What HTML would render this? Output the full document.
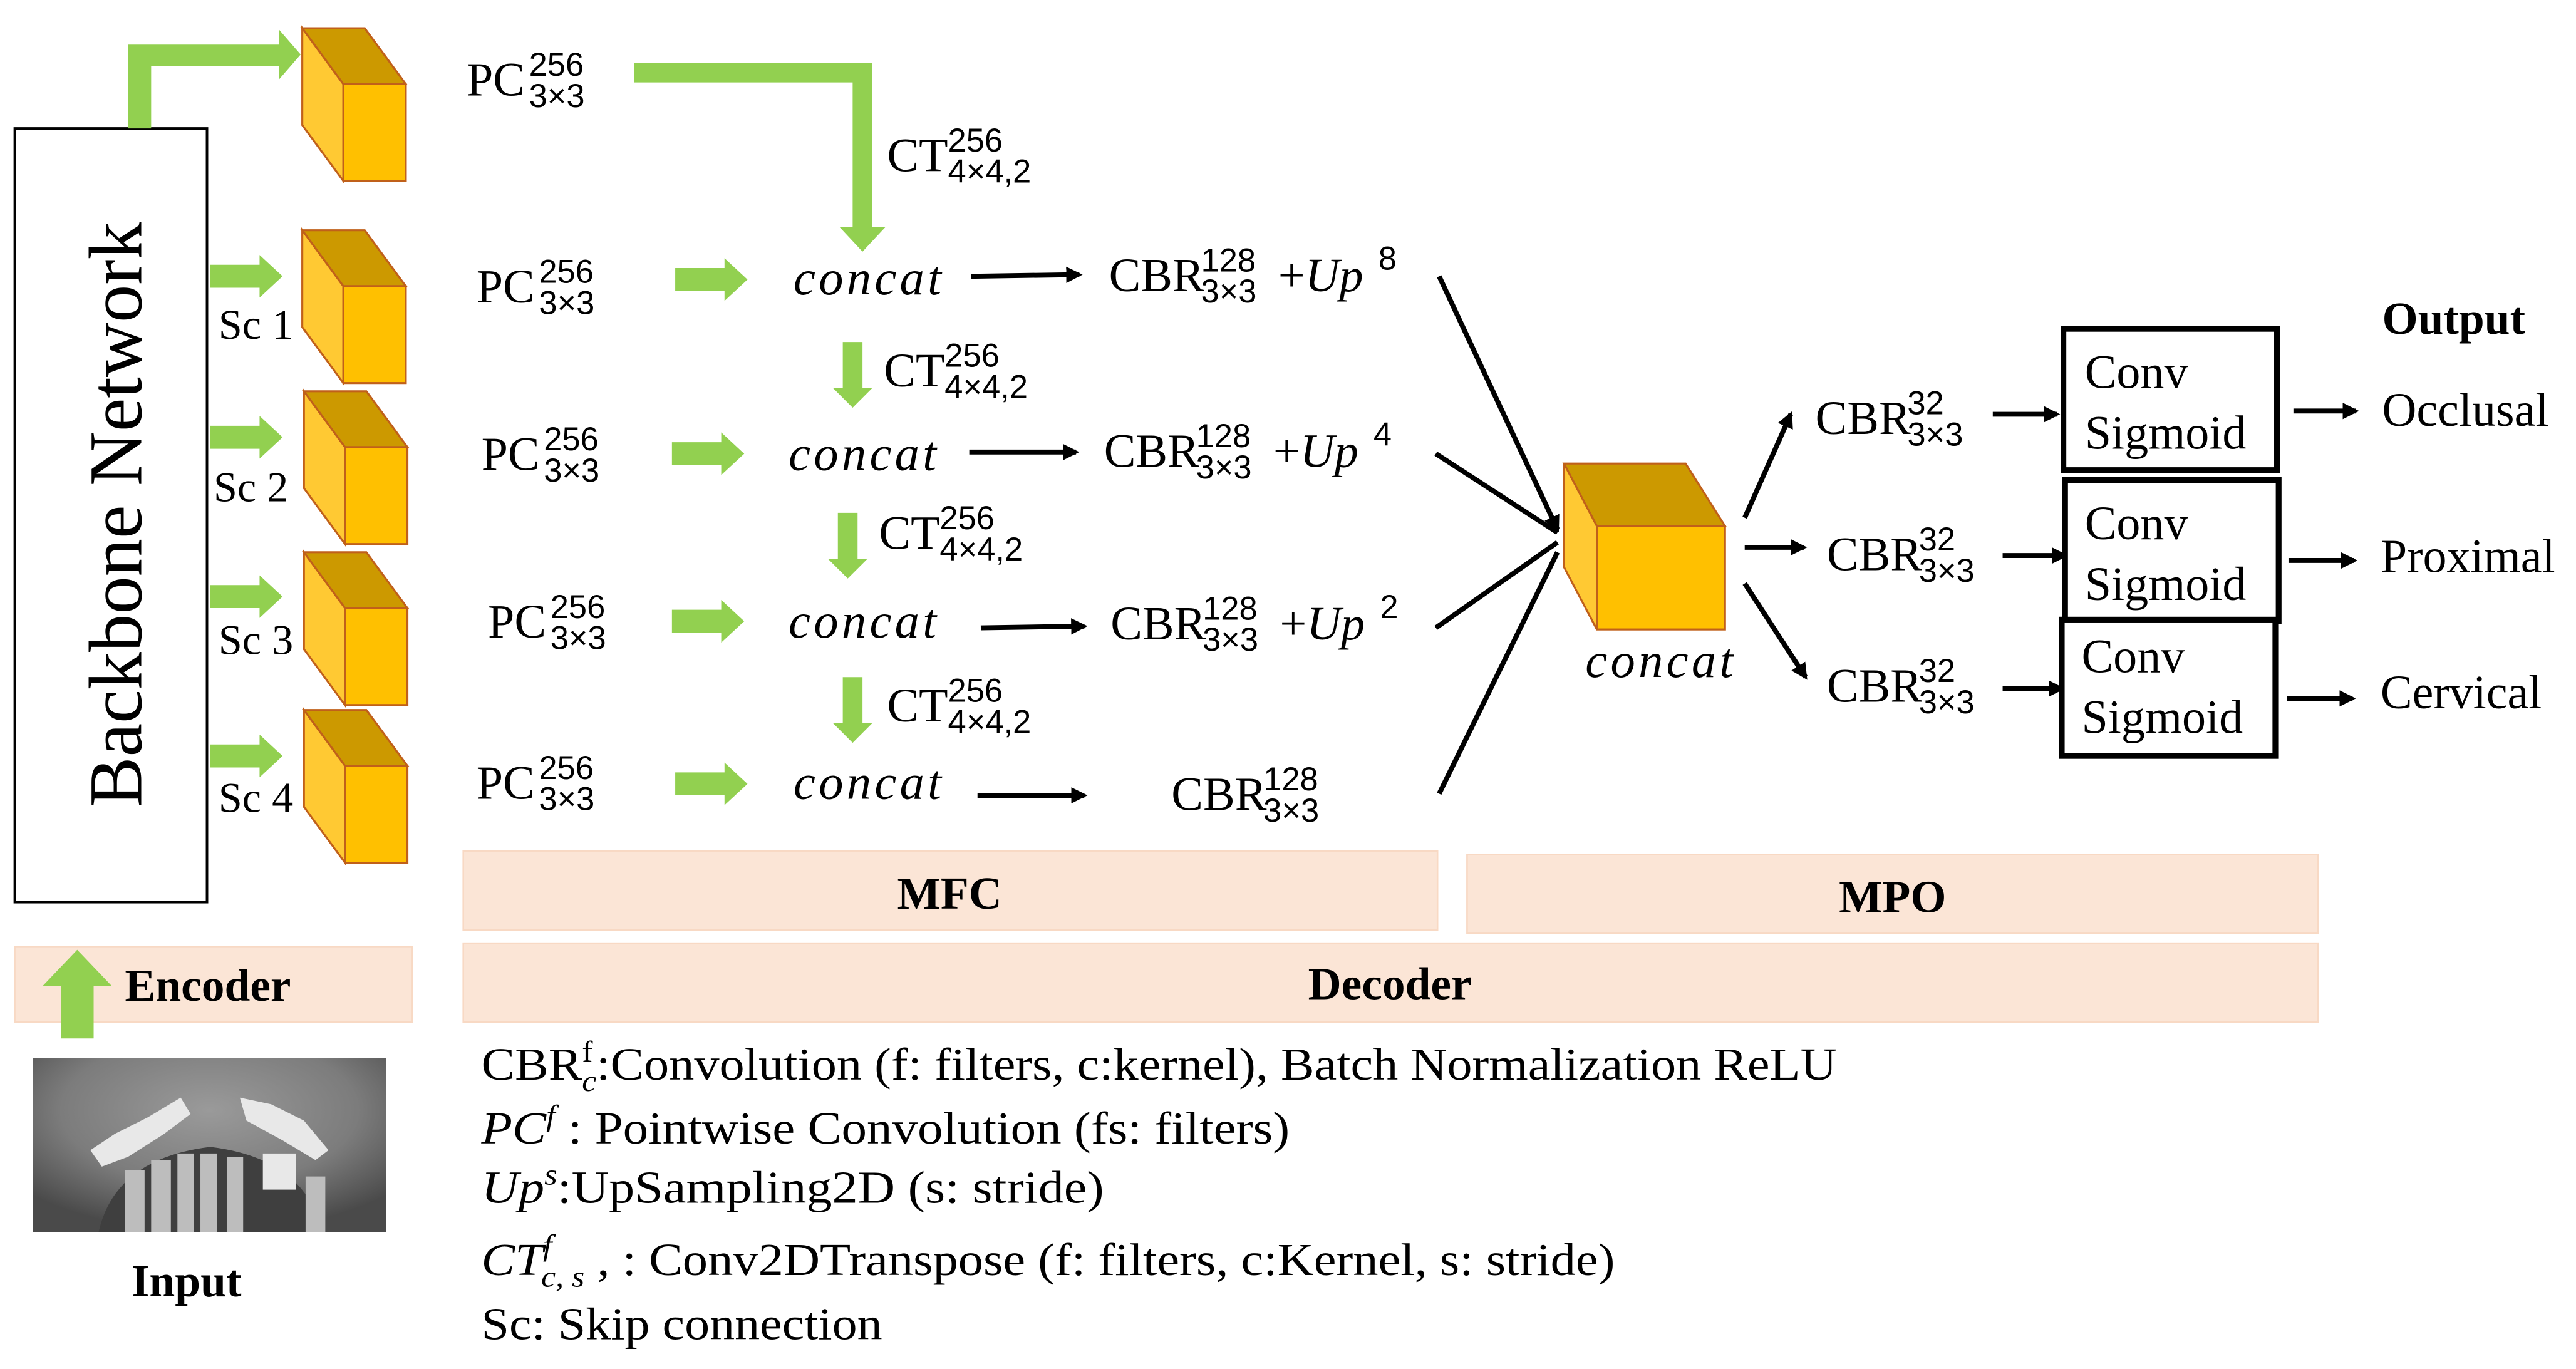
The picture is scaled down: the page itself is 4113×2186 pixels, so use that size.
<!DOCTYPE html>
<html><head><meta charset="utf-8"><style>
html,body{margin:0;padding:0;background:#fff;}
svg{display:block;}
text{font-family:"Liberation Serif",serif;fill:#000;}
.m{font-size:29px;}
.s{font-size:20px;font-family:"Liberation Sans",sans-serif;}
.i{font-style:italic;font-size:30px;}
.b{font-weight:bold;}
</style></head><body>
<svg width="4113" height="2186" viewBox="0 0 1568 833" xmlns="http://www.w3.org/2000/svg">
<defs>
<g id="cube">
<polygon points="0,0 25,34 25,93 0,59" fill="#FFC933" stroke="#C0601A" stroke-width="1.2"/>
<polygon points="0,0 38,0 63,34 25,34" fill="#CC9900" stroke="#C0601A" stroke-width="1.2"/>
<rect x="25" y="34" width="38" height="59" fill="#FFC000" stroke="#C0601A" stroke-width="1.2"/>
</g>
<g id="garr"><polygon points="0,-7 30,-7 30,-13 44,0 30,13 30,7 0,7" fill="#92D050"/></g>
<g id="gdown"><polygon points="-6,0 6,0 6,28 12,28 0,40 -12,28 -6,28" fill="#92D050"/></g>
<marker id="ah" markerWidth="10" markerHeight="10" refX="8" refY="5" orient="auto" markerUnits="userSpaceOnUse"><polygon points="0,0 10,5 0,10" fill="#000"/></marker>
</defs>

<rect x="9" y="78" width="117" height="471" fill="#fff" stroke="#000" stroke-width="1.5"/>
<text x="0" y="0" transform="translate(86,313) rotate(-90)" text-anchor="middle" font-size="46">Backbone Network</text>
<polygon points="78,78 92,78 92,40 170,40 170,48 183,33 170,18 170,27 78,27" fill="#92D050"/>

<use href="#cube" x="184" y="17"/>
<use href="#cube" x="184" y="140"/>
<use href="#cube" x="185" y="238"/>
<use href="#cube" x="185" y="336"/>
<use href="#cube" x="185" y="432"/>
<use href="#garr" x="128" y="168"/>
<use href="#garr" x="128" y="266"/>
<use href="#garr" x="128" y="363"/>
<use href="#garr" x="128" y="460"/>
<text x="133" y="206" font-size="26">Sc 1</text>
<text x="130" y="305" font-size="26">Sc 2</text>
<text x="133" y="398" font-size="26">Sc 3</text>
<text x="133" y="494" font-size="26">Sc 4</text>

<g class="m">
<text x="284" y="58">PC</text><text class="s" x="322" y="46">256</text><text class="s" x="322" y="65">3×3</text>
<text x="290" y="184">PC</text><text class="s" x="328" y="172">256</text><text class="s" x="328" y="191">3×3</text>
<text x="293" y="286">PC</text><text class="s" x="331" y="274">256</text><text class="s" x="331" y="293">3×3</text>
<text x="297" y="388">PC</text><text class="s" x="335" y="376">256</text><text class="s" x="335" y="395">3×3</text>
<text x="290" y="486">PC</text><text class="s" x="328" y="474">256</text><text class="s" x="328" y="493">3×3</text>
</g>

<polygon points="386,38 531,38 531,138 539,138 525,153 511,138 519,138 519,50 386,50" fill="#92D050"/>

<use href="#garr" x="411" y="170"/>
<use href="#garr" x="409" y="276"/>
<use href="#garr" x="409" y="378"/>
<use href="#garr" x="411" y="477"/>

<use href="#gdown" x="519" y="208"/>
<use href="#gdown" x="516" y="312"/>
<use href="#gdown" x="519" y="412"/>

<g class="m">
<text x="540" y="104">CT</text><text class="s" x="577" y="92">256</text><text class="s" x="577" y="111">4×4,2</text>
<text x="538" y="235">CT</text><text class="s" x="575" y="223">256</text><text class="s" x="575" y="242">4×4,2</text>
<text x="535" y="334">CT</text><text class="s" x="572" y="322">256</text><text class="s" x="572" y="341">4×4,2</text>
<text x="540" y="439">CT</text><text class="s" x="577" y="427">256</text><text class="s" x="577" y="446">4×4,2</text>
</g>

<text class="i" x="483" y="179" textLength="90">concat</text>
<text class="i" x="480" y="286" textLength="90">concat</text>
<text class="i" x="480" y="388" textLength="90">concat</text>
<text class="i" x="483" y="486" textLength="90">concat</text>

<g stroke="#000" stroke-width="3" marker-end="url(#ah)">
<line x1="591" y1="168" x2="657" y2="167"/>
<line x1="590" y1="275" x2="655" y2="275"/>
<line x1="597" y1="382" x2="660" y2="381"/>
<line x1="595" y1="484" x2="660" y2="484"/>
</g>

<g class="m">
<text x="675" y="177">CBR</text><text class="s" x="731" y="165">128</text><text class="s" x="731" y="184">3×3</text><text x="778" y="177">+<tspan font-style="italic">Up</tspan></text><text class="s" x="839" y="164">8</text>
<text x="672" y="284">CBR</text><text class="s" x="728" y="272">128</text><text class="s" x="728" y="291">3×3</text><text x="775" y="284">+<tspan font-style="italic">Up</tspan></text><text class="s" x="836" y="271">4</text>
<text x="676" y="389">CBR</text><text class="s" x="732" y="377">128</text><text class="s" x="732" y="396">3×3</text><text x="779" y="389">+<tspan font-style="italic">Up</tspan></text><text class="s" x="840" y="376">2</text>
<text x="713" y="493">CBR</text><text class="s" x="769" y="481">128</text><text class="s" x="769" y="500">3×3</text>
</g>

<g stroke="#000" stroke-width="3">
<line x1="876" y1="168" x2="948" y2="322" marker-end="url(#ah)"/>
<line x1="874" y1="276" x2="948" y2="324"/>
<line x1="874" y1="382" x2="948" y2="330"/>
<line x1="876" y1="483" x2="948" y2="336"/>
</g>

<polygon points="952,282 972,320 972,383 952,345" fill="#FFC933" stroke="#C0601A" stroke-width="1.2"/>
<polygon points="952,282 1026,282 1050,320 972,320" fill="#CC9900" stroke="#C0601A" stroke-width="1.2"/>
<rect x="972" y="320" width="78" height="63" fill="#FFC000" stroke="#C0601A" stroke-width="1.2"/>
<text class="i" x="965" y="412" textLength="90">concat</text>

<g stroke="#000" stroke-width="3" marker-end="url(#ah)">
<line x1="1062" y1="315" x2="1090" y2="252"/>
<line x1="1062" y1="333" x2="1098" y2="333"/>
<line x1="1062" y1="355" x2="1099" y2="412"/>
<line x1="1213" y1="252" x2="1252" y2="252"/>
<line x1="1219" y1="338" x2="1257" y2="338"/>
<line x1="1219" y1="419" x2="1255" y2="419"/>
<line x1="1396" y1="250" x2="1434" y2="250"/>
<line x1="1393" y1="341" x2="1433" y2="341"/>
<line x1="1392" y1="425" x2="1432" y2="425"/>
</g>

<g class="m">
<text x="1105" y="264">CBR</text><text class="s" x="1161" y="252">32</text><text class="s" x="1161" y="271">3×3</text>
<text x="1112" y="347">CBR</text><text class="s" x="1168" y="335">32</text><text class="s" x="1168" y="354">3×3</text>
<text x="1112" y="427">CBR</text><text class="s" x="1168" y="415">32</text><text class="s" x="1168" y="434">3×3</text>
</g>

<g fill="#fff" stroke="#000" stroke-width="3.5">
<rect x="1256" y="200" width="130" height="86"/>
<rect x="1257" y="292" width="130" height="86"/>
<rect x="1255" y="377" width="130" height="83"/>
</g>
<g font-size="29">
<text x="1269" y="236">Conv</text><text x="1269" y="273">Sigmoid</text>
<text x="1269" y="328">Conv</text><text x="1269" y="365">Sigmoid</text>
<text x="1267" y="409">Conv</text><text x="1267" y="446">Sigmoid</text>
<text x="1450" y="259">Occlusal</text>
<text x="1449" y="348">Proximal</text>
<text x="1449" y="431">Cervical</text>
</g>
<text class="b" x="1450" y="203" font-size="28">Output</text>

<g fill="#FBE5D6" stroke="#F8D9C4" stroke-width="1">
<rect x="282" y="518" width="593" height="48"/>
<rect x="893" y="520" width="518" height="48"/>
<rect x="282" y="574" width="1129" height="48"/>
<rect x="9" y="576" width="242" height="46"/>
</g>
<text class="b" x="578" y="553" font-size="28" text-anchor="middle">MFC</text>
<text class="b" x="1152" y="555" font-size="28" text-anchor="middle">MPO</text>
<text class="b" x="846" y="608" font-size="28" text-anchor="middle">Decoder</text>
<text class="b" x="76" y="609" font-size="28">Encoder</text>
<polygon points="37,632 57,632 57,600 68,600 47,578 26,600 37,600" fill="#92D050"/>

<defs>
<radialGradient id="xr" cx="0.5" cy="0.3" r="0.7">
<stop offset="0" stop-color="#9a9a9a"/><stop offset="0.6" stop-color="#7c7c7c"/><stop offset="1" stop-color="#4a4a4a"/>
</radialGradient>
</defs>
<rect x="20" y="644" width="215" height="106" fill="url(#xr)"/>
<path d="M60,750 Q70,705 128,698 Q186,705 196,750 Z" fill="#3f3f3f"/>
<g fill="#e8e8e8">
<path d="M55,700 L70,690 L90,680 L110,668 L116,678 L100,690 L78,704 L62,710 Z"/>
<path d="M146,668 L165,672 L185,682 L200,700 L192,706 L172,694 L150,682 Z"/>
<rect x="160" y="702" width="20" height="22"/>
</g>
<g fill="#bdbdbd">
<rect x="76" y="712" width="12" height="38"/><rect x="92" y="706" width="12" height="44"/>
<rect x="108" y="702" width="10" height="48"/><rect x="122" y="702" width="10" height="48"/>
<rect x="138" y="704" width="10" height="46"/><rect x="186" y="716" width="12" height="34"/>
</g>
<text class="b" x="80" y="789" font-size="28">Input</text>

<g font-size="28">
<text x="293" y="657" textLength="825" lengthAdjust="spacingAndGlyphs">CBR<tspan font-size="18" dy="-11">f</tspan><tspan font-size="18" font-style="italic" dx="-6" dy="18">c</tspan><tspan dy="-7">:Convolution (f: filters, c:kernel), Batch Normalization ReLU</tspan></text>
<text x="293" y="696" textLength="492" lengthAdjust="spacingAndGlyphs"><tspan font-style="italic">PC</tspan><tspan font-size="18" font-style="italic" dy="-11">f</tspan><tspan dy="11"> : Pointwise Convolution (fs: filters)</tspan></text>
<text x="293" y="732" textLength="379" lengthAdjust="spacingAndGlyphs"><tspan font-style="italic">Up</tspan><tspan font-size="18" font-style="italic" dy="-11">s</tspan><tspan dy="11">:UpSampling2D (s: stride)</tspan></text>
<text x="293" y="776" textLength="690" lengthAdjust="spacingAndGlyphs"><tspan font-style="italic">CT</tspan><tspan font-size="18" font-style="italic" dy="-12">f</tspan><tspan font-size="18" font-style="italic" dx="-6" dy="19">c, s</tspan><tspan dy="-7"> , : Conv2DTranspose (f: filters, c:Kernel, s: stride)</tspan></text>
<text x="293" y="815" textLength="244" lengthAdjust="spacingAndGlyphs">Sc: Skip connection</text>
</g>
</svg>
</body></html>
